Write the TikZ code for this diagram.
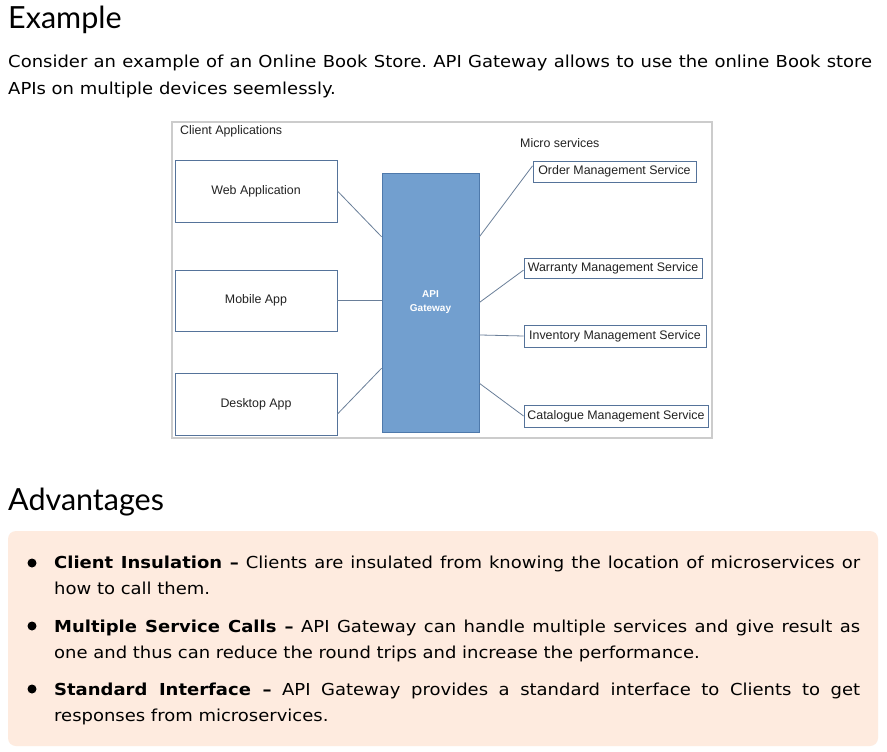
\documentclass[tikz,border=0pt]{standalone}
\usepackage{fontspec}
\setmainfont[FakeStretch=1.09]{DejaVu Sans}
\newfontfamily\headfont{Lato}
\newfontfamily\diafont{Liberation Sans}
\usetikzlibrary{calc}

\definecolor{peach}{HTML}{FEEBDF}
\definecolor{frameGray}{HTML}{CCCCCC}
\definecolor{boxEdge}{HTML}{55739A}
\definecolor{wireCol}{HTML}{6A7F99}
\definecolor{gwFill}{HTML}{729FCF}
\definecolor{gwEdge}{HTML}{4E79AB}
\definecolor{diaText}{HTML}{222222}

% justified line of a given width
\newcommand{\jline}[2]{\makebox[#1][s]{#2}}

\tikzset{
  heading/.style={font=\headfont\fontsize{30.5}{36}\selectfont, inner sep=0pt, anchor=base west},
  bodytext/.style={font=\frenchspacing\fontsize{16.5}{20}\selectfont, inner sep=0pt, anchor=base west, text=black},
  diatext/.style={font=\diafont\fontsize{12.4}{14}\selectfont, inner sep=0pt, anchor=base west, text=diaText},
  clientbox/.style={draw=boxEdge, line width=0.9pt, fill=white, minimum width=162pt,
    font=\diafont\fontsize{12.4}{14}\selectfont, text=diaText, inner sep=0pt},
  svcbox/.style={draw=boxEdge, line width=0.9pt, fill=white, minimum height=21pt,
    font=\diafont\fontsize{12.4}{14}\selectfont, text=diaText, inner sep=0pt},
  gateway/.style={draw=gwEdge, line width=0.8pt, fill=gwFill, minimum width=97pt,
    minimum height=259pt, inner sep=0pt},
  wire/.style={draw=wireCol, line width=0.8pt},
  dot/.style={circle, fill=black, inner sep=0pt, minimum size=9pt},
}

\begin{document}
\begin{tikzpicture}[x=1pt, y=-1pt]
\useasboundingbox (0,0) rectangle (887,752);
\fill[white] (0,0) rectangle (887,752);

% ---------- Example section ----------
\node[heading] (hexample) at (8,29) {Example};
\node[bodytext] (intro1) at (8,68)
  {\jline{864pt}{Consider an example of an Online Book Store. API Gateway allows to use the online Book store}};
\node[bodytext] (intro2) at (8,95) {APIs on multiple devices seemlessly.};

% ---------- diagram ----------
\draw[frameGray, line width=1.6pt] (172,122) rectangle (712,438);
\node[diatext] (lclients) at (180,134) {Client Applications};
\node[diatext] (lmicro) at (520,147) {Micro services};

\node[clientbox, minimum height=62pt] (web) at (256,191) {Web Application};
\node[clientbox, minimum height=61pt] (mobile) at (256,300.5) {Mobile App};
\node[clientbox, minimum height=62pt] (desktop) at (256,404) {Desktop App};

\node[gateway] (gw) at (430.5,302.5) {};
\node[font=\diafont\bfseries\fontsize{10}{14}\selectfont, text=white, align=center, inner sep=0pt]
  (gwlabel) at (430.5,302) {API\\Gateway};

\node[svcbox, minimum width=163pt] (order) at (614.5,171.5) {Order Management Service};
\node[svcbox, minimum width=178pt, minimum height=20pt] (warranty) at (613,268) {Warranty Management Service};
\node[svcbox, minimum width=182pt, minimum height=22pt] (inventory) at (615,336) {Inventory Management Service};
\node[svcbox, minimum width=184pt, minimum height=22pt] (catalogue) at (616,416) {Catalogue Management Service};

% client side connectors
\draw[wire] (web.east) -- ($(gw.north west)!0.247!(gw.south west)$);
\draw[wire] (mobile.east) -- (gw.west |- mobile.east);
\draw[wire] ($(desktop.north east)!0.66!(desktop.south east)$) -- ($(gw.north west)!0.753!(gw.south west)$);

% service side connectors
\draw[wire] ($(gw.north east)!0.247!(gw.south east)$) -- ($(order.north west)!0.24!(order.south west)$);
\draw[wire] ($(gw.north east)!0.5!(gw.south east)$) -- ($(warranty.north west)!0.6!(warranty.south west)$);
\draw[wire] ($(gw.north east)!0.625!(gw.south east)$) -- (inventory.west);
\draw[wire] ($(gw.north east)!0.811!(gw.south east)$) -- (catalogue.west);

% ---------- Advantages section ----------
\node[heading] (hadv) at (8,510) {Advantages};
\fill[peach, rounded corners=8pt] (8,531) rectangle (878,746);

\node[dot] (b1) at (32,563) {};
\node[bodytext] (a1) at (54,568)
  {\jline{806pt}{\textbf{Client Insulation –} Clients are insulated from knowing the location of microservices or}};
\node[bodytext] (a1b) at (54,594) {how to call them.};

\node[dot] (b2) at (32,626) {};
\node[bodytext] (a2) at (54,632)
  {\jline{806pt}{\textbf{Multiple Service Calls –} API Gateway can handle multiple services and give result as}};
\node[bodytext] (a2b) at (54,658) {one and thus can reduce the round trips and increase the performance.};

\node[dot] (b3) at (32,689) {};
\node[bodytext] (a3) at (54,695)
  {\jline{806pt}{\textbf{Standard Interface –} API Gateway provides a standard interface to Clients to get}};
\node[bodytext] (a3b) at (54,721) {responses from microservices.};
\end{tikzpicture}
\end{document}
